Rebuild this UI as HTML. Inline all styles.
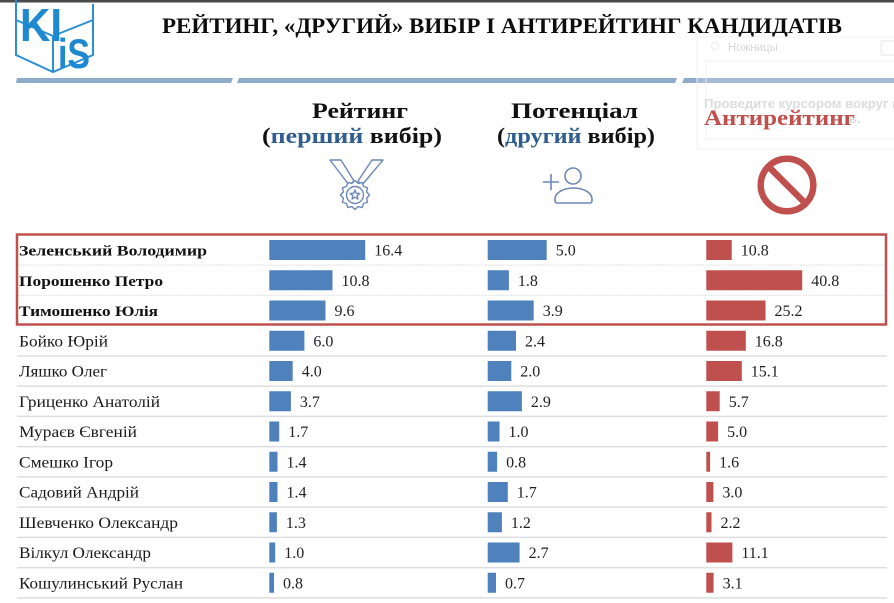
<!DOCTYPE html>
<html>
<head>
<meta charset="utf-8">
<style>
  html, body { margin:0; padding:0; background:#fff; }
  svg { display:block; }
  text { font-family: "Liberation Serif", "DejaVu Serif", serif; }
  .nm { font-size:15.5px; fill:#1a1a1a; }
  .nb { font-size:15px; font-weight:bold; fill:#111; }
  .v { font-size:16px; fill:#222; }
  .hd { font-size:22px; font-weight:bold; fill:#111; }
</style>
</head>
<body>
<svg width="894" height="603" viewBox="0 0 894 603" xmlns="http://www.w3.org/2000/svg">
  <rect x="0" y="0" width="894" height="603" fill="#ffffff"/>
  <rect x="0" y="0" width="894" height="2.5" fill="#4a4a4a"/>

  <!-- Logo -->
  <g stroke="#2a8fd4" stroke-width="2" fill="none">
    <path d="M16,0 V55 L53,72 L93,55 V4"/>
    <path d="M53,72 V36 M53,36 L16,20 M53,36 L93,20"/>
  </g>
  <text x="20" y="41" font-size="46" font-weight="bold" fill="#1e88d0" textLength="42" lengthAdjust="spacingAndGlyphs" style="font-family:'Liberation Sans',sans-serif">KI</text>
  <text x="58" y="68" font-size="42" font-weight="bold" fill="#1e88d0" textLength="32" lengthAdjust="spacingAndGlyphs" style="font-family:'Liberation Sans',sans-serif">iS</text>

  <!-- Title -->
  <text x="162" y="33" font-size="22" font-weight="bold" fill="#0d0d0d" textLength="680" lengthAdjust="spacingAndGlyphs">РЕЙТИНГ, «ДРУГИЙ» ВИБІР І АНТИРЕЙТИНГ КАНДИДАТІВ</text>

  <!-- Header separator -->
  <polygon points="17,78 233,78 231,83 16,83" fill="#8eabcc"/>
  <polygon points="239,78 677,78 675,83 237,83" fill="#8eabcc"/>
  <polygon points="684,78 894,78 894,83 682,83" fill="#8eabcc"/>

  <!-- Snipping overlay (faint) -->
  <rect x="697" y="37" width="205" height="112" rx="3" fill="#ffffff" fill-opacity="0.2" stroke="#f0f0f0" stroke-width="1"/>
  <circle cx="715" cy="46" r="3.5" fill="none" stroke="#ececec" stroke-width="1"/>
  <text x="728" y="51" font-size="11.5" fill="#d8d8d8" style="font-family:'Liberation Sans',sans-serif">Ножницы</text>
  <rect x="881" y="41" width="16" height="14" rx="2" fill="none" stroke="#e6e6e6"/>
  <rect x="706" y="61" width="192" height="78" fill="none" stroke="#f0f0f0"/>
  <text x="704" y="108" font-size="13" font-weight="bold" fill="#dcdcdc" textLength="196" lengthAdjust="spacingAndGlyphs" style="font-family:'Liberation Sans',sans-serif">Проведите курсором вокруг п</text>
  <text x="849" y="123" font-size="13" font-weight="bold" fill="#dcdcdc" style="font-family:'Liberation Sans',sans-serif">ь.</text>

  <!-- Column headers -->
  <text x="312" y="118" class="hd" textLength="96" lengthAdjust="spacingAndGlyphs">Рейтинг</text>
  <text x="262" y="143" class="hd" textLength="180" lengthAdjust="spacingAndGlyphs">(<tspan fill="#2f5d8e">перший</tspan> вибір)</text>
  <text x="511" y="118" class="hd" textLength="127" lengthAdjust="spacingAndGlyphs">Потенціал</text>
  <text x="497" y="143" class="hd" textLength="158" lengthAdjust="spacingAndGlyphs">(<tspan fill="#2f5d8e">другий</tspan> вибір)</text>
  <text x="704" y="125" class="hd" style="fill:#c0504d" textLength="151" lengthAdjust="spacingAndGlyphs">Антирейтинг</text>

  <!-- Medal icon -->
  <g stroke="#6d87b7" stroke-width="1.4" fill="none" stroke-linejoin="round">
    <polygon points="330,160 341,160 354,181 349,185"/>
    <polygon points="383,160 372,160 358,181 362,185"/>
    <polygon fill="#ffffff" points="369.5,195 366.59,198.11 367.56,202.25 363.49,203.49 362.25,207.56 358.11,206.59 355,209.5 351.89,206.59 347.75,207.56 346.51,203.49 342.44,202.25 343.41,198.11 340.5,195 343.41,191.89 342.44,187.75 346.51,186.51 347.75,182.44 351.89,183.41 355,180.5 358.11,183.41 362.25,182.44 363.49,186.51 367.56,187.75 366.59,191.89"/>
    <circle cx="355" cy="195" r="8.5"/>
    <polygon points="355,190 356.29,193.22 359.76,193.45 357.09,195.68 357.94,199.05 355,197.2 352.06,199.05 352.91,195.68 350.24,193.45 353.71,193.22"/>
  </g>

  <!-- Person-plus icon -->
  <g stroke="#6d87b7" stroke-width="1.6" fill="none" stroke-linecap="round">
    <circle cx="573" cy="176" r="8"/>
    <path d="M555,201 v-2 a18.5,11 0 0 1 37,0 v2 a2,2 0 0 1 -2,2 h-33 a2,2 0 0 1 -2,-2 z"/>
    <line x1="543.5" y1="182" x2="558.5" y2="182"/>
    <line x1="551" y1="174.5" x2="551" y2="189.5"/>
  </g>

  <!-- Forbidden icon -->
  <g stroke="#c0504d" stroke-width="6.5" fill="none">
    <circle cx="787" cy="185" r="26.3"/>
    <line x1="768.4" y1="166.4" x2="805.6" y2="203.6"/>
  </g>

  <!-- Row separators -->
  <g stroke="#e3e3e3" stroke-width="1.2" stroke-dasharray="1.5 1">
    <line x1="18" y1="265.1" x2="886" y2="265.1"/>
    <line x1="18" y1="295.4" x2="886" y2="295.4"/>
  </g>
  <g stroke="#dedede" stroke-width="1.5">
    <line x1="17" y1="355.9" x2="887" y2="355.9"/>
    <line x1="17" y1="386.1" x2="887" y2="386.1"/>
    <line x1="17" y1="416.4" x2="887" y2="416.4"/>
    <line x1="17" y1="446.6" x2="887" y2="446.6"/>
    <line x1="17" y1="476.9" x2="887" y2="476.9"/>
    <line x1="17" y1="507.1" x2="887" y2="507.1"/>
    <line x1="17" y1="537.4" x2="887" y2="537.4"/>
    <line x1="17" y1="567.6" x2="887" y2="567.6"/>
    <line x1="17" y1="597.9" x2="887" y2="597.9"/>
  </g>

  <!-- Names -->
  <text x="19" y="255.5" class="nb" textLength="188" lengthAdjust="spacingAndGlyphs">Зеленський Володимир</text>
  <text x="19" y="285.8" class="nb" textLength="144" lengthAdjust="spacingAndGlyphs">Порошенко Петро</text>
  <text x="19" y="316" class="nb" textLength="139" lengthAdjust="spacingAndGlyphs">Тимошенко Юлія</text>
  <text x="19" y="346.3" class="nm" textLength="89" lengthAdjust="spacingAndGlyphs">Бойко Юрій</text>
  <text x="19" y="376.5" class="nm" textLength="88" lengthAdjust="spacingAndGlyphs">Ляшко Олег</text>
  <text x="19" y="406.8" class="nm" textLength="141" lengthAdjust="spacingAndGlyphs">Гриценко Анатолій</text>
  <text x="19" y="437" class="nm" textLength="118" lengthAdjust="spacingAndGlyphs">Мураєв Євгеній</text>
  <text x="19" y="467.3" class="nm" textLength="94" lengthAdjust="spacingAndGlyphs">Смешко Ігор</text>
  <text x="19" y="497.5" class="nm" textLength="120" lengthAdjust="spacingAndGlyphs">Садовий Андрій</text>
  <text x="19" y="527.8" class="nm" textLength="159" lengthAdjust="spacingAndGlyphs">Шевченко Олександр</text>
  <text x="19" y="558" class="nm" textLength="132" lengthAdjust="spacingAndGlyphs">Вілкул Олександр</text>
  <text x="19" y="588.3" class="nm" textLength="164" lengthAdjust="spacingAndGlyphs">Кошулинський Руслан</text>

  <!-- Rating bars -->
  <g fill="#4f81bd">
    <rect x="269.3" y="240" width="95.9" height="20"/>
    <rect x="269.3" y="270.25" width="63.2" height="20"/>
    <rect x="269.3" y="300.5" width="56.2" height="20"/>
    <rect x="269.3" y="330.75" width="35.1" height="20"/>
    <rect x="269.3" y="361" width="23.4" height="20"/>
    <rect x="269.3" y="391.25" width="21.6" height="20"/>
    <rect x="269.3" y="421.5" width="9.9" height="20"/>
    <rect x="269.3" y="451.75" width="8.2" height="20"/>
    <rect x="269.3" y="482" width="8.2" height="20"/>
    <rect x="269.3" y="512.25" width="7.6" height="20"/>
    <rect x="269.3" y="542.5" width="5.9" height="20"/>
    <rect x="269.3" y="572.75" width="4.7" height="20"/>
  </g>
  <text class="v" x="374.2" y="255.5">16.4</text>
  <text class="v" x="341.5" y="285.8">10.8</text>
  <text class="v" x="334.5" y="316">9.6</text>
  <text class="v" x="313.4" y="346.3">6.0</text>
  <text class="v" x="301.7" y="376.5">4.0</text>
  <text class="v" x="299.9" y="406.8">3.7</text>
  <text class="v" x="288.2" y="437">1.7</text>
  <text class="v" x="286.5" y="467.3">1.4</text>
  <text class="v" x="286.5" y="497.5">1.4</text>
  <text class="v" x="285.9" y="527.8">1.3</text>
  <text class="v" x="284.2" y="558">1.0</text>
  <text class="v" x="283.0" y="588.3">0.8</text>

  <!-- Potential bars -->
  <g fill="#4f81bd">
    <rect x="487.7" y="240" width="59" height="20"/>
    <rect x="487.7" y="270.25" width="21.2" height="20"/>
    <rect x="487.7" y="300.5" width="46" height="20"/>
    <rect x="487.7" y="330.75" width="28.3" height="20"/>
    <rect x="487.7" y="361" width="23.6" height="20"/>
    <rect x="487.7" y="391.25" width="34.2" height="20"/>
    <rect x="487.7" y="421.5" width="11.8" height="20"/>
    <rect x="487.7" y="451.75" width="9.4" height="20"/>
    <rect x="487.7" y="482" width="20.1" height="20"/>
    <rect x="487.7" y="512.25" width="14.2" height="20"/>
    <rect x="487.7" y="542.5" width="31.9" height="20"/>
    <rect x="487.7" y="572.75" width="8.3" height="20"/>
  </g>
  <text class="v" x="555.7" y="255.5">5.0</text>
  <text class="v" x="517.9" y="285.8">1.8</text>
  <text class="v" x="542.7" y="316">3.9</text>
  <text class="v" x="525.0" y="346.3">2.4</text>
  <text class="v" x="520.3" y="376.5">2.0</text>
  <text class="v" x="530.9" y="406.8">2.9</text>
  <text class="v" x="508.5" y="437">1.0</text>
  <text class="v" x="506.1" y="467.3">0.8</text>
  <text class="v" x="516.8" y="497.5">1.7</text>
  <text class="v" x="510.9" y="527.8">1.2</text>
  <text class="v" x="528.6" y="558">2.7</text>
  <text class="v" x="505.0" y="588.3">0.7</text>

  <!-- Anti-rating bars -->
  <g fill="#c0504d">
    <rect x="706.3" y="240" width="25.4" height="20"/>
    <rect x="706.3" y="270.25" width="95.9" height="20"/>
    <rect x="706.3" y="300.5" width="59.2" height="20"/>
    <rect x="706.3" y="330.75" width="39.5" height="20"/>
    <rect x="706.3" y="361" width="35.5" height="20"/>
    <rect x="706.3" y="391.25" width="13.4" height="20"/>
    <rect x="706.3" y="421.5" width="11.8" height="20"/>
    <rect x="706.3" y="451.75" width="3.8" height="20"/>
    <rect x="706.3" y="482" width="7.1" height="20"/>
    <rect x="706.3" y="512.25" width="5.2" height="20"/>
    <rect x="706.3" y="542.5" width="26.1" height="20"/>
    <rect x="706.3" y="572.75" width="7.3" height="20"/>
  </g>
  <text class="v" x="740.7" y="255.5">10.8</text>
  <text class="v" x="811.2" y="285.8">40.8</text>
  <text class="v" x="774.5" y="316">25.2</text>
  <text class="v" x="754.8" y="346.3">16.8</text>
  <text class="v" x="750.8" y="376.5">15.1</text>
  <text class="v" x="728.7" y="406.8">5.7</text>
  <text class="v" x="727.1" y="437">5.0</text>
  <text class="v" x="719.1" y="467.3">1.6</text>
  <text class="v" x="722.4" y="497.5">3.0</text>
  <text class="v" x="720.5" y="527.8">2.2</text>
  <text class="v" x="741.4" y="558">11.1</text>
  <text class="v" x="722.6" y="588.3">3.1</text>

  <!-- Highlight box -->
  <rect x="17" y="234.5" width="869" height="90" fill="none" stroke="#c0504d" stroke-width="2.5"/>
</svg>
</body>
</html>
